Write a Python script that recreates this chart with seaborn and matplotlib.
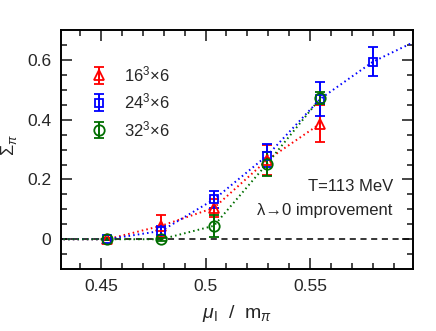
import numpy as np
import pandas as pd
import matplotlib
matplotlib.use("Agg")
import matplotlib.pyplot as plt
import seaborn as sns

# ---- data ----
mu = [0.4277, 0.4531, 0.4789, 0.5040, 0.5294, 0.5548, 0.5799, 0.6053]
s16 = [0.0, 0.0, 0.045, 0.105, 0.265, 0.387, np.nan, np.nan]
e16 = [0.0, 0.004, 0.036, 0.030, 0.050, 0.062, np.nan, np.nan]
s24 = [0.0, 0.0, 0.028, 0.133, 0.280, 0.470, 0.594, 0.680]
e24 = [0.0, 0.004, 0.015, 0.027, 0.038, 0.058, 0.048, 0.05]
s32 = [0.0, 0.0, 0.0, 0.045, 0.253, 0.472, np.nan, np.nan]
e32 = [0.0, 0.004, 0.005, 0.037, 0.040, 0.020, np.nan, np.nan]
labels = ["16$^3$×6", "24$^3$×6", "32$^3$×6"]
colors = ["#ff0000", "#0000ff", "#006e00"]
markers = ["^", "s", "o"]
msizes = [6.5, 6.0, 7.5]

rows = []
for lab, s, e in zip(labels, [s16, s24, s32], [e16, e24, e32]):
    for x, y, err in zip(mu, s, e):
        if not np.isnan(y):
            rows.append({"mu": x, "sigma": y, "err": err, "lattice": lab})
df = pd.DataFrame(rows)

sns.set_theme(style="ticks")
plt.rcParams["font.family"] = ["Liberation Sans", "DejaVu Sans"]
plt.rcParams["mathtext.fontset"] = "custom"
plt.rcParams["mathtext.rm"] = "Liberation Sans"
plt.rcParams["mathtext.it"] = "Liberation Sans:italic"

fig = plt.figure(figsize=(4.36, 3.31), dpi=100)
ax = fig.add_axes([0.140, 0.187, 0.807, 0.722])

ax.axhline(0, color="black", lw=1.1, ls=(0, (4, 3)), zorder=1)

sns.lineplot(data=df, x="mu", y="sigma", hue="lattice", palette=colors,
             hue_order=labels, ax=ax, legend=False, linewidth=1.4,
             linestyle=(0, (0.8, 1.6)), sort=True, zorder=2)

handles = []
for lab, c, m, ms in zip(labels, colors, markers, msizes):
    d = df[df["lattice"] == lab]
    h = ax.errorbar(d["mu"], d["sigma"], yerr=d["err"], fmt=m, color=c,
                    mfc="none", mec=c, ms=ms, mew=1.3, elinewidth=1.4,
                    capsize=3.6, capthick=1.4, zorder=3)
    handles.append(h)

ax.legend(handles, labels, loc="upper left", bbox_to_anchor=(0.065, 0.885),
          frameon=False, fontsize=12, handlelength=1.0, handletextpad=1.0,
          labelspacing=0.45, borderaxespad=0)

ax.set_xlim(0.431, 0.599)
ax.set_ylim(-0.1, 0.7)
ax.set_xticks([0.45, 0.5, 0.55])
ax.set_xticklabels(["0.45", "0.5", "0.55"])
ax.set_xticks(np.arange(0.44, 0.60, 0.01), minor=True)
ax.set_yticks([0, 0.2, 0.4, 0.6])
ax.set_yticklabels(["0", "0.2", "0.4", "0.6"])
ax.set_yticks(np.arange(-0.05, 0.70, 0.05), minor=True)

ax.tick_params(which="both", direction="in", top=True, right=True,
               width=1.2, labelsize=12.5, pad=7)
ax.tick_params(which="major", length=8)
ax.tick_params(which="minor", length=4.5)
for sp in ax.spines.values():
    sp.set_linewidth(1.4)
    sp.set_color("black")

ax.set_xlabel(r"$\mu_\mathrm{I}$  /  m$_\pi$", fontsize=14)
ax.xaxis.set_label_coords(0.5, -0.14)
ax.set_ylabel(r"$\Sigma_\pi$", fontsize=13)
ax.yaxis.set_label_coords(-0.12, 0.52)

ax.text(0.943, 0.175, "T=113 MeV", transform=ax.get_yaxis_transform(),
        ha="right", va="center", fontsize=12)
ax.text(0.943, 0.095, "λ→0 improvement", transform=ax.get_yaxis_transform(),
        ha="right", va="center", fontsize=12)

fig.savefig("out.png", dpi=100)
